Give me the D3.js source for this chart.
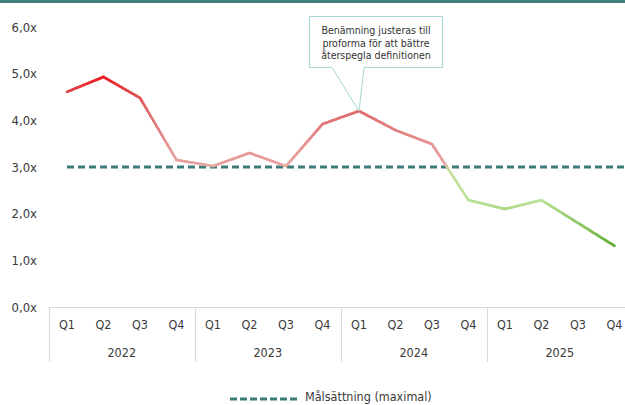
<!DOCTYPE html>
<html>
<head>
<meta charset="utf-8">
<script src="https://cdn.jsdelivr.net/npm/d3@7"></script>
<style>
  body { margin: 0; background: #fff; }
  svg { display: block; font-family: "DejaVu Sans Condensed", "Roboto", sans-serif; }
</style>
</head>
<body>
<div id="chart"></div>
<script>
var years = ["2022", "2023", "2024", "2025"];
var quarters = ["Q1", "Q2", "Q3", "Q4"];
var values = [4.61, 4.93, 4.48, 3.15, 3.02, 3.30, 3.02, 3.92, 4.20, 3.79, 3.49, 2.29, 2.10, 2.29, 1.80, 1.31];
var target = 3.0;
var yTicks = [0, 1, 2, 3, 4, 5, 6];
var note = ["Benämning justeras till", "proforma för att bättre", "återspegla definitionen"];
var noteIndex = 8;
var legendLabel = "Målsättning (maximal)";

var W = 625, H = 405;
var svg = d3.select("#chart").append("svg").attr("width", W).attr("height", H);

// top bar
svg.append("rect").attr("width", W).attr("height", 3).attr("fill", "#3f7f7b");

var cats = [];
years.forEach(function(y) { quarters.forEach(function(q) { cats.push(y + " " + q); }); });

var x = d3.scaleBand().domain(cats).range([48.75, 48.75 + 16 * 36.5]);
var y = d3.scaleLinear().domain([0, 6]).range([307, 27]);
var cx = function(i) { return x(cats[i]) + x.bandwidth() / 2; };

// y labels
svg.append("g").selectAll("text").data(yTicks).join("text")
  .attr("x", 37).attr("y", function(d) { return y(d) + 4.5; })
  .attr("text-anchor", "end").attr("font-size", 13).attr("fill", "#3a3a3a")
  .text(function(d) { return d3.format(".1f")(d).replace(".", ",") + "x"; });

// category axis box
var axisG = svg.append("g").attr("stroke", "#d9d9d9").attr("stroke-width", 1);
axisG.append("line").attr("x1", 48.5).attr("x2", W).attr("y1", 307.5).attr("y2", 307.5);
var edges = [0, 4, 8, 12].map(function(i) { return x(cats[i]); });
axisG.selectAll("line.div").data(edges).join("line").attr("class", "div")
  .attr("x1", function(d) { return Math.round(d) + 0.5; })
  .attr("x2", function(d) { return Math.round(d) + 0.5; })
  .attr("y1", 307).attr("y2", 362);

svg.append("g").selectAll("text").data(cats).join("text")
  .attr("x", function(d, i) { return cx(i); }).attr("y", 329)
  .attr("text-anchor", "middle").attr("font-size", 12.5).attr("fill", "#3a3a3a")
  .text(function(d) { return d.split(" ")[1]; });

svg.append("g").selectAll("text").data(years).join("text")
  .attr("x", function(d, i) { return (cx(i * 4) + cx(i * 4 + 3)) / 2; }).attr("y", 357)
  .attr("text-anchor", "middle").attr("font-size", 12.5).attr("fill", "#3a3a3a")
  .text(function(d) { return d; });

// target line
svg.append("line")
  .attr("x1", cx(0)).attr("x2", W).attr("y1", y(target)).attr("y2", y(target))
  .attr("stroke", "#3d7b78").attr("stroke-width", 3).attr("stroke-dasharray", "7 4");

// value coloured line
var color = d3.scaleLinear()
  .domain([1.3, 2.3, 2.95, 3.05, 3.5, 4.2, 4.6, 4.93])
  .range(["#66ad37", "#bde39b", "#c9dc9e", "#e8a3a0", "#e59393", "#e06a6a", "#e04848", "#ee1c25"])
  .clamp(true);

var segs = [];
for (var i = 0; i < values.length - 1; i++) {
  var n = 24;
  for (var k = 0; k < n; k++) {
    var t0 = k / n, t1 = (k + 1) / n;
    var v0 = values[i] + (values[i + 1] - values[i]) * t0;
    var v1 = values[i] + (values[i + 1] - values[i]) * t1;
    segs.push({
      x0: cx(i) + (cx(i + 1) - cx(i)) * t0, x1: cx(i) + (cx(i + 1) - cx(i)) * t1,
      v0: v0, v1: v1
    });
  }
}
svg.append("g").selectAll("line").data(segs).join("line")
  .attr("x1", function(d) { return d.x0; }).attr("x2", function(d) { return d.x1; })
  .attr("y1", function(d) { return y(d.v0); }).attr("y2", function(d) { return y(d.v1); })
  .attr("stroke", function(d) { return color((d.v0 + d.v1) / 2); })
  .attr("stroke-width", 2.6).attr("stroke-linecap", "round");

// callout
var px = cx(noteIndex), py = y(values[noteIndex]);
var bx0 = 309.5, bx1 = 442.5, by0 = 16.5, by1 = 67.5;
svg.append("path")
  .attr("d", "M" + bx0 + "," + by0 + "H" + bx1 + "V" + by1 + "H" + 364 + "L" + px + "," + py +
    "L" + 332 + "," + by1 + "H" + bx0 + "Z")
  .attr("fill", "#fff").attr("stroke", "#a6d6d6").attr("stroke-width", 1);
svg.append("g").selectAll("text").data(note).join("text")
  .attr("x", (bx0 + bx1) / 2).attr("y", function(d, i) { return 34 + i * 12.5; })
  .attr("text-anchor", "middle").attr("font-size", 10.5).attr("fill", "#333")
  .text(function(d) { return d; });

// legend
svg.append("line").attr("x1", 230).attr("x2", 298).attr("y1", 399).attr("y2", 399)
  .attr("stroke", "#3d7b78").attr("stroke-width", 3).attr("stroke-dasharray", "7 3");
svg.append("text").attr("x", 305).attr("y", 401).attr("font-size", 12.5).attr("fill", "#3a3a3a")
  .text(legendLabel);
</script>
</body>
</html>
